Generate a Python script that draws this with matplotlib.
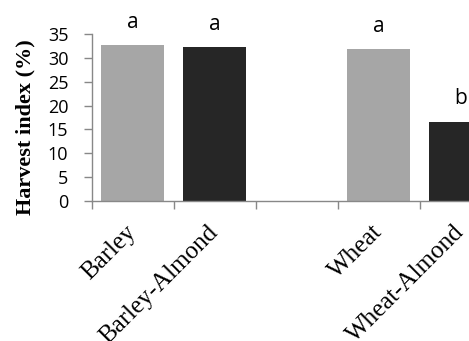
import matplotlib.pyplot as plt
import numpy as np

categories = ["Barley", "Barley-Almond", "", "Wheat", "Wheat-Almond"]
harvest_index = [32.7, 32.2, 0, 31.8, 16.6]
letters = ["a", "a", "", "a", "b"]
colors = ["#a6a6a6", "#262626", "#ffffff", "#a6a6a6", "#262626"]

fig = plt.figure(figsize=(4.69, 3.41), dpi=100)
ax = fig.add_axes([0.196, 0.4106, 0.804, 0.4897])

x = np.arange(len(categories))
for i in x:
    if categories[i] == "":
        continue
    ax.bar(x[i], harvest_index[i], width=0.77, color=colors[i])
    ax.text(x[i], harvest_index[i] + 4.8, letters[i], ha="center", va="center",
            fontsize=15, family="Open Sans")

ax.set_yticks(range(0, 36, 5))
for lab in ax.get_yticklabels():
    lab.set_family("Open Sans")
    lab.set_fontsize(13)

# boundary ticks on the x axis, labels at the centres
ax.set_xticks(np.arange(-0.5, 4.6, 1.0))
ax.set_xticklabels([])
ax.set_xticks(x, minor=True)
ax.set_xticklabels(categories, minor=True, rotation=45, ha="right", va="center",
                   rotation_mode="anchor", family="Liberation Serif", fontsize=18)
ax.tick_params(axis="x", which="minor", length=0, pad=20)
ax.tick_params(axis="both", which="major", length=6, width=1, color="#888888")
ax.tick_params(axis="y", pad=11)
ax.set_xlim(-0.5, 4.1)
ax.set_ylim(0, 35)

for s in ["top", "right"]:
    ax.spines[s].set_visible(False)
for s in ["left", "bottom"]:
    ax.spines[s].set_color("#888888")
    ax.spines[s].set_linewidth(1)

ax.set_ylabel("Harvest index (%)", family="Liberation Serif", fontweight="bold",
              fontsize=16)
ax.yaxis.set_label_coords(-0.151, 0.443)

fig.savefig("out.png", dpi=100)
